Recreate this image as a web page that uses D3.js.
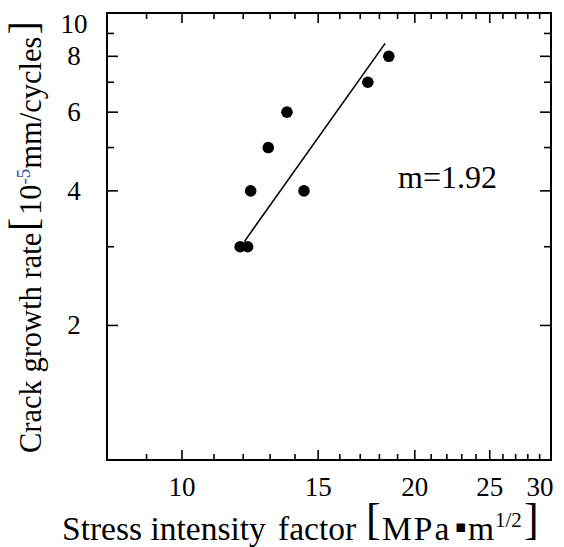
<!DOCTYPE html>
<html>
  <head>
    <meta charset="UTF-8">
    <title>Crack growth rate vs stress intensity factor</title>
  </head>
  <body style="margin:0">
    <svg width="564" height="547"></svg>
    <script src="https://d3js.org/d3.v7.min.js"></script>
    <script>

// measured points (K in MPa m^1/2, da/dN in 1e-5 mm/cycle)
var stressK = [11.89, 12.16, 12.27, 12.93, 13.67, 14.38, 17.39, 18.51];
var growthRate = [3, 3, 4, 5, 6, 4, 7, 8];

// fitted line end points
var fitK = [12.04, 18.31];
var fitRate = [3.08, 8.55];

var xMajor = [10, 15, 20, 25, 30];
var xMinor = [9, 11, 12, 13, 14, 16, 17, 18, 19, 21, 22, 23, 24, 26, 27, 28, 29];
var yMajor = [2, 4, 6, 8];
var yMinor = [3, 5, 7, 9];
var yLabels = [2, 4, 6, 8, 10];
var slopeText = "m=1.92";

var W = 564, H = 547;
var pLeft = 107, pRight = W - 13, pTop = 13, pBottom = H - 87;

var svg = d3.select("svg");

var x = d3.scaleLog().domain([8, 30]).range([pLeft, pRight]);
var y = d3.scaleLog().domain([1, 10]).range([pBottom, pTop]);

// serif text helper
function label(px) {
  return svg.append("text")
    .style("font-family", "Liberation Serif")
    .style("font-size", px + "px")
    .attr("fill", "#000");
}

// tick marks on all four sides, pointing inward
function ticks(values, size, side) {
  var horiz = (side == "b" || side == "t");
  svg.append("g").selectAll("line")
    .data(values)
    .enter().append("line")
      .attr("stroke", "#000").attr("stroke-width", 1.6)
      .attr("x1", function(d){ return horiz ? x(d) : (side == "l" ? pLeft : pRight); })
      .attr("x2", function(d){ return horiz ? x(d) : (side == "l" ? pLeft + size : pRight - size); })
      .attr("y1", function(d){ return horiz ? (side == "b" ? pBottom : pTop) : y(d); })
      .attr("y2", function(d){ return horiz ? (side == "b" ? pBottom - size : pTop + size) : y(d); });
}
["b", "t"].forEach(function(s){ ticks(xMajor, 10, s); ticks(xMinor, 6, s); });
["l", "r"].forEach(function(s){ ticks(yMajor, 11, s); ticks(yMinor, 7, s); });

// frame
svg.append("rect")
  .attr("x", pLeft).attr("y", pTop)
  .attr("width", pRight - pLeft).attr("height", pBottom - pTop)
  .attr("fill", "none").attr("stroke", "#000").attr("stroke-width", 2);

// tick labels
xMajor.forEach(function(d){
  label(27)
    .attr("x", Math.min(x(d), pRight - 11))
    .attr("y", pBottom + 36)
    .attr("text-anchor", "middle")
    .text(d);
});
yLabels.forEach(function(d){
  label(27)
    .attr("x", pLeft - 33)
    .attr("y", Math.max(y(d), pTop + 11) + 9)
    .attr("text-anchor", "middle")
    .text(d);
});

// fit line
svg.append("line")
  .attr("x1", x(fitK[0])).attr("y1", y(fitRate[0]))
  .attr("x2", x(fitK[1])).attr("y2", y(fitRate[1]))
  .attr("stroke", "#000").attr("stroke-width", 1.6);

// data points
svg.selectAll(".dot")
  .data(stressK)
  .enter().append("circle")
    .attr("class", "dot")
    .attr("cx", function(d){ return x(d); })
    .attr("cy", function(d, i){ return y(growthRate[i]); })
    .attr("r", 5.8)
    .attr("fill", "#000");

label(32).attr("x", 398).attr("y", 188).text(slopeText);

// x axis title
var xt = label(33.5).attr("y", 540);
xt.append("tspan").attr("x", 62).text("Stress intensity");
xt.append("tspan").attr("x", 278).text("factor");
xt.append("tspan").attr("x", 366).attr("y", 534).style("font-size", "44px").text("[");
xt.append("tspan").attr("x", 382).attr("y", 540).style("letter-spacing", "2px").text("MPa");
xt.append("tspan").attr("x", 455).attr("y", 532).style("font-size", "17px").style("font-family", "DejaVu Sans").text("\u25aa");
xt.append("tspan").attr("x", 468).attr("y", 540).text("m");
xt.append("tspan").attr("x", 495).attr("y", 527).style("font-size", "21px").text("1/2");
xt.append("tspan").attr("x", 524).attr("y", 534).style("font-size", "44px").text("]");

// y axis title (rotated: x runs upward along the screen)
var yt = label(30.5).attr("transform", "translate(41,0) rotate(-90)");
yt.append("tspan").attr("x", -453).text("Crack growth rate");
yt.append("tspan").attr("x", -231).attr("y", -4).style("font-size", "40px").text("[");
yt.append("tspan").attr("x", -215).attr("y", 0).text("10");
yt.append("tspan").attr("y", -11).style("font-size", "19px").style("fill", "#2f4f9f").text("-5");
yt.append("tspan").attr("y", 0).text("mm/cycles");
yt.append("tspan").attr("y", -4).attr("dx", 2).style("font-size", "40px").text("]");

    </script>
  </body>
</html>
